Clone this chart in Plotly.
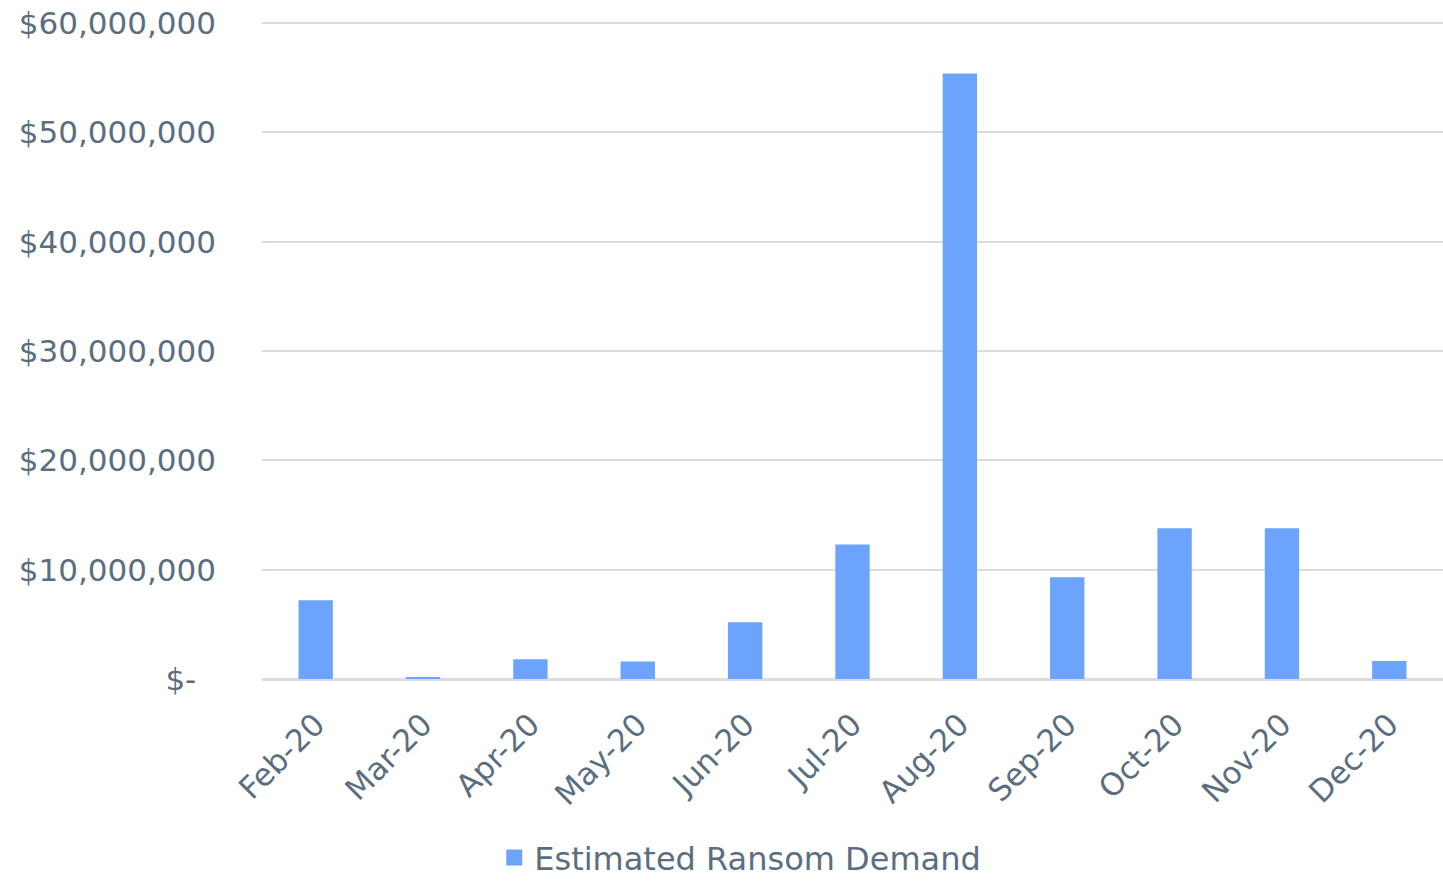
import plotly.graph_objects as go

months = ["Feb-20", "Mar-20", "Apr-20", "May-20", "Jun-20", "Jul-20",
          "Aug-20", "Sep-20", "Oct-20", "Nov-20", "Dec-20"]
demand = [7200000, 100000, 1800000, 1600000, 5200000, 12300000,
          55400000, 9300000, 13800000, 13800000, 1650000]
tick_vals = [0, 10000000, 20000000, 30000000, 40000000, 50000000, 60000000]
tick_text = ["$-\u00a0\u00a0", "$10,000,000", "$20,000,000", "$30,000,000",
             "$40,000,000", "$50,000,000", "$60,000,000"]
series_name = "Estimated Ransom Demand"

txt = "#5a6e80"
bar_color = "#6ca3fd"
fam = "DejaVu Sans"
fig = go.Figure()
fig.add_trace(go.Bar(
    x=months, y=demand, name=series_name,
    marker=dict(color=bar_color, line=dict(width=0)),
    showlegend=False,
))
# legend entry with a larger square swatch
fig.add_trace(go.Scatter(
    x=[months[0]], y=[None], name=series_name, mode="markers",
    marker=dict(symbol="square", size=21, color=bar_color),
    showlegend=True, hoverinfo="skip",
))
fig.update_layout(
    width=1443, height=883,
    margin=dict(l=262, r=0, t=22, b=204, autoexpand=False),
    paper_bgcolor="white", plot_bgcolor="white",
    font=dict(family=fam, color=txt),
    bargap=0.68,
    showlegend=True,
    legend=dict(orientation="h", xref="container", yref="paper",
                x=0.513, xanchor="center", y=-0.272, yanchor="middle",
                font=dict(size=32, color=txt), itemwidth=30),
    xaxis=dict(tickangle=-45, tickfont=dict(size=31, color=txt),
               range=[-0.5, len(months) - 0.5],
               showgrid=False, showline=False, ticks="",
               ticklabelstandoff=20),
    yaxis=dict(range=[0, 60100000], tickvals=tick_vals, ticktext=tick_text,
               tickfont=dict(size=31, color=txt),
               showgrid=True, gridcolor="#d9dce0", gridwidth=2,
               zeroline=True, zerolinecolor="#d9dce0", zerolinewidth=3,
               ticks="", ticklabelstandoff=45),
)
fig.write_html("out.html")
